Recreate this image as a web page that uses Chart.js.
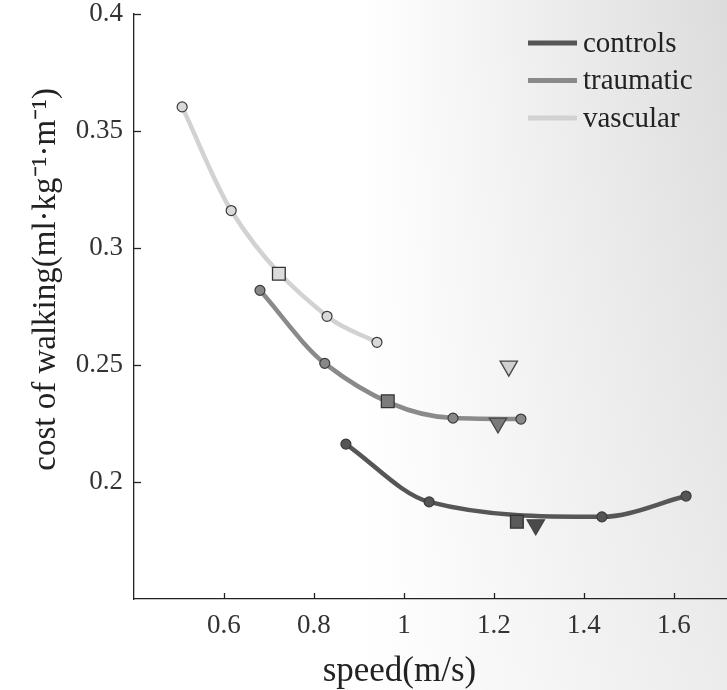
<!DOCTYPE html>
<html>
<head>
<meta charset="utf-8">
<script src="https://cdn.jsdelivr.net/npm/chart.js@4.4.0/dist/chart.umd.min.js"></script>
<style>
  html, body { margin: 0; padding: 0; }
  body {
    width: 727px; height: 690px; overflow: hidden;
    background: linear-gradient(to bottom, rgba(255,255,255,0) 0%, rgba(255,255,255,0.45) 100%),
                linear-gradient(to right, #ffffff 0%, #ffffff 50%, #dcdcdc 100%);
  }
</style>
</head>
<body>
<canvas id="myChart" width="727" height="690"></canvas>
<script>
// values
const groups = ['controls', 'traumatic', 'vascular'];
const speedControls = [0.871, 1.056, 1.44, 1.627];
const costControls = [0.2162, 0.1915, 0.1851, 0.194];
const speedTraumatic = [0.68, 0.824, 1.109, 1.26];
const costTraumatic = [0.2819, 0.2507, 0.2273, 0.2269];
const speedVascular = [0.507, 0.616, 0.829, 0.94];
const costVascular = [0.3603, 0.316, 0.2708, 0.2597];
// squares and triangles, in order controls, traumatic, vascular
const squareSpeed = [1.251, 0.964, 0.722];
const squareCost = [0.183, 0.2345, 0.289];
const triangleSpeed = [1.293, 1.209, 1.233];
const triangleCost = [0.1817, 0.2252, 0.2495];

const xTicks = [0.6, 0.8, 1, 1.2, 1.4, 1.6];
const yTicks = [0.2, 0.25, 0.3, 0.35, 0.4];

const lineColors = ['#565656', '#8a8a8a', '#d2d2d2'];
const dotColors = ['#555555', '#888888', '#d9d9d9'];
const squareColors = ['#5a5a5a', '#7c7c7c', '#dcdcdc'];
const triColors = ['#4a4a4a', '#7a7a7a', '#d0d0d0'];

const serif = "'Liberation Serif', 'Times New Roman', serif";
Chart.defaults.font.family = serif;
Chart.defaults.color = '#222';

function pts(xs, ys) {
  return xs.map((x, i) => ({ x: x, y: ys[i] }));
}

const curves = [pts(speedControls, costControls), pts(speedTraumatic, costTraumatic), pts(speedVascular, costVascular)];

const datasets = [];
curves.forEach((data, i) => {
  datasets.push({
    label: groups[i],
    data: data,
    showLine: true,
    cubicInterpolationMode: 'monotone',
    borderColor: lineColors[i],
    borderWidth: 4.5,
    pointRadius: 5,
    pointBackgroundColor: dotColors[i],
    pointBorderColor: '#3a3a3a',
    pointBorderWidth: 1.2,
    order: 2,
    inLegend: true
  });
});
groups.forEach((g, i) => {
  datasets.push({
    label: g + ' square',
    data: [{ x: squareSpeed[i], y: squareCost[i] }],
    showLine: false,
    pointStyle: 'rect',
    pointRadius: 9,
    pointBackgroundColor: squareColors[i],
    pointBorderColor: '#333',
    pointBorderWidth: 1.3,
    order: 0
  });
  datasets.push({
    label: g + ' triangle',
    data: [{ x: triangleSpeed[i], y: triangleCost[i] }],
    showLine: false,
    pointStyle: 'triangle',
    pointRotation: 180,
    pointRadius: 10,
    pointBackgroundColor: triColors[i],
    pointBorderColor: '#444',
    pointBorderWidth: 1.3,
    order: 0
  });
});

// inward ticks, legend and axis titles
const extras = {
  id: 'extras',
  afterDraw(chart) {
    const ctx = chart.ctx;
    const a = chart.chartArea;
    const xs = chart.scales.x, ys = chart.scales.y;
    ctx.save();
    ctx.strokeStyle = '#222';
    ctx.lineWidth = 1.3;
    xTicks.forEach(v => {
      const px = Math.round(xs.getPixelForValue(v)) + 0.5;
      ctx.beginPath(); ctx.moveTo(px, a.bottom); ctx.lineTo(px, a.bottom - 6); ctx.stroke();
    });
    yTicks.forEach(v => {
      const py = Math.round(ys.getPixelForValue(v)) + 0.5;
      ctx.beginPath(); ctx.moveTo(a.left, py); ctx.lineTo(a.left + 7, py); ctx.stroke();
    });

    // legend
    ctx.font = '29px ' + serif;
    ctx.textBaseline = 'middle';
    ctx.textAlign = 'left';
    let row = 0;
    chart.data.datasets.forEach(ds => {
      if (!ds.inLegend) return;
      const y = 43 + row * 37.5;
      ctx.strokeStyle = ds.borderColor;
      ctx.lineWidth = 5;
      ctx.beginPath(); ctx.moveTo(a.right - 199, y); ctx.lineTo(a.right - 150, y); ctx.stroke();
      ctx.fillStyle = '#222';
      ctx.fillText(ds.label, a.right - 144, y + 1);
      row++;
    });

    // axis titles
    ctx.fillStyle = '#222';
    ctx.textAlign = 'center';
    ctx.font = '35px ' + serif;
    ctx.fillText('speed(m/s)', xs.getPixelForValue(0.99), 672);
    ctx.font = '33px ' + serif;
    ctx.translate(46, ys.getPixelForValue(0.2866));
    ctx.rotate(-Math.PI / 2);
    ctx.fillText('cost of walking(ml\u00b7kg\u207b\u00b9\u00b7m\u207b\u00b9)', 0, 0);
    ctx.restore();
  }
};

const ctx = document.getElementById('myChart').getContext('2d');
const myChart = new Chart(ctx, {
  type: 'scatter',
  data: { datasets: datasets },
  options: {
    responsive: false,
    animation: false,
    devicePixelRatio: 1,
    layout: { autoPadding: false, padding: { top: 14, right: 0, left: 0, bottom: 0 } },
    plugins: { legend: { display: false }, tooltip: { enabled: false } },
    scales: {
      x: {
        type: 'linear',
        min: 0.4,
        max: 1.718,
        afterBuildTicks: s => { s.ticks = xTicks.map(v => ({ value: v })); },
        afterFit: s => { s.height = 91; s.paddingLeft = 0; s.paddingRight = 0; },
        grid: { display: false, drawTicks: false },
        border: { display: true, color: '#222', width: 1.3 },
        ticks: { padding: 11, font: { size: 27 }, color: '#333', callback: v => String(v) }
      },
      y: {
        type: 'linear',
        min: 0.15,
        max: 0.4,
        afterBuildTicks: s => { s.ticks = yTicks.map(v => ({ value: v })); },
        afterFit: s => { s.width = 134; s.paddingTop = 0; s.paddingBottom = 0; },
        grid: { display: false, drawTicks: false },
        border: { display: true, color: '#222', width: 1.3 },
        ticks: { padding: 11, font: { size: 27 }, color: '#333', callback: v => String(v) }
      }
    }
  },
  plugins: [extras]
});
</script>
</body>
</html>
